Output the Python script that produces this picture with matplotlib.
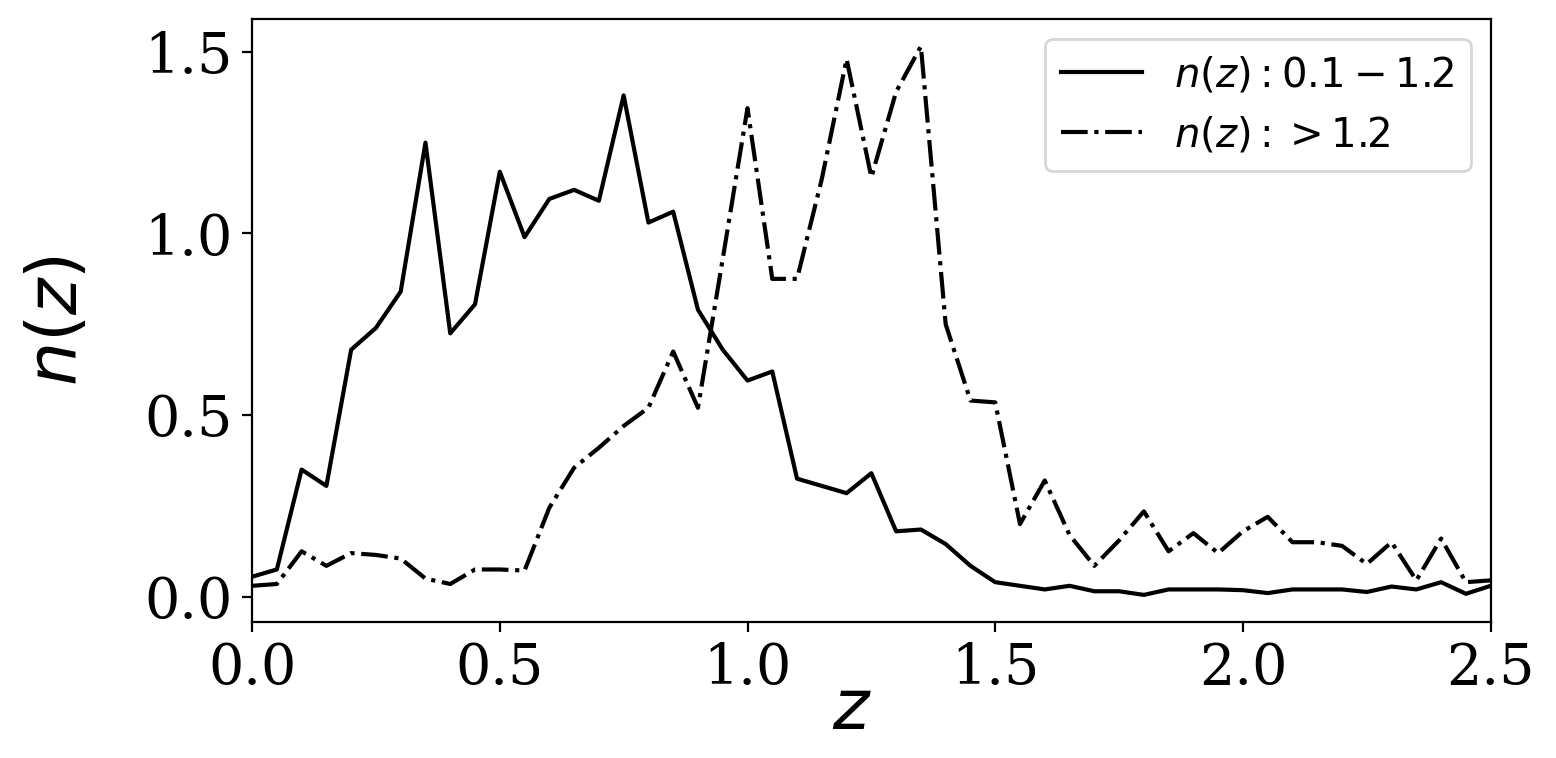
import numpy as np
import matplotlib.pyplot as plt

# redshift grid
z = np.arange(0, 2.5001, 0.05)

# n(z) for the 0.1-1.2 bin
nz_low = [0.055, 0.075, 0.35, 0.305, 0.68, 0.74, 0.84, 1.25, 0.725, 0.805,
          1.17, 0.99, 1.095, 1.12, 1.09, 1.38, 1.03, 1.06, 0.79, 0.68,
          0.595, 0.62, 0.325, 0.305, 0.285, 0.34, 0.18, 0.185, 0.145, 0.085,
          0.04, 0.03, 0.02, 0.03, 0.015, 0.015, 0.005, 0.02, 0.02, 0.02,
          0.018, 0.01, 0.02, 0.02, 0.02, 0.013, 0.028, 0.02, 0.04, 0.008,
          0.03]

# n(z) for the >1.2 bin
nz_high = [0.03, 0.035, 0.125, 0.085, 0.12, 0.115, 0.105, 0.05, 0.035, 0.075,
           0.075, 0.072, 0.245, 0.355, 0.41, 0.47, 0.52, 0.675, 0.52, 0.93,
           1.345, 0.875, 0.875, 1.15, 1.48, 1.155, 1.39, 1.515, 0.75, 0.54,
           0.535, 0.2, 0.32, 0.17, 0.085, 0.155, 0.235, 0.125, 0.175, 0.12,
           0.18, 0.22, 0.15, 0.15, 0.14, 0.09, 0.15, 0.045, 0.16, 0.04,
           0.045]

labels = [r'$n(z): 0.1-1.2$', r'$n(z): >1.2$']

fig, ax = plt.subplots(figsize=(7.78, 3.79), dpi=200)
fig.subplots_adjust(left=0.162, right=0.958, top=0.975, bottom=0.179)

ax.plot(z, nz_low, 'k-', label=labels[0])
ax.plot(z, nz_high, 'k-.', label=labels[1])

ax.set_xlim(0, 2.5)
ax.set_xticks([0.0, 0.5, 1.0, 1.5, 2.0, 2.5])
ax.set_yticks([0.0, 0.5, 1.0, 1.5])
for lab in ax.get_xticklabels() + ax.get_yticklabels():
    lab.set_family('DejaVu Serif')
    lab.set_fontsize(20)

ax.set_xlabel(r'$z$', fontsize=25, labelpad=-7.5, x=0.484)
ax.set_ylabel(r'$n(z)$', fontsize=25, labelpad=19)
ax.legend(loc='upper right', fontsize=14.5)

fig.savefig('out.png', dpi=200)
